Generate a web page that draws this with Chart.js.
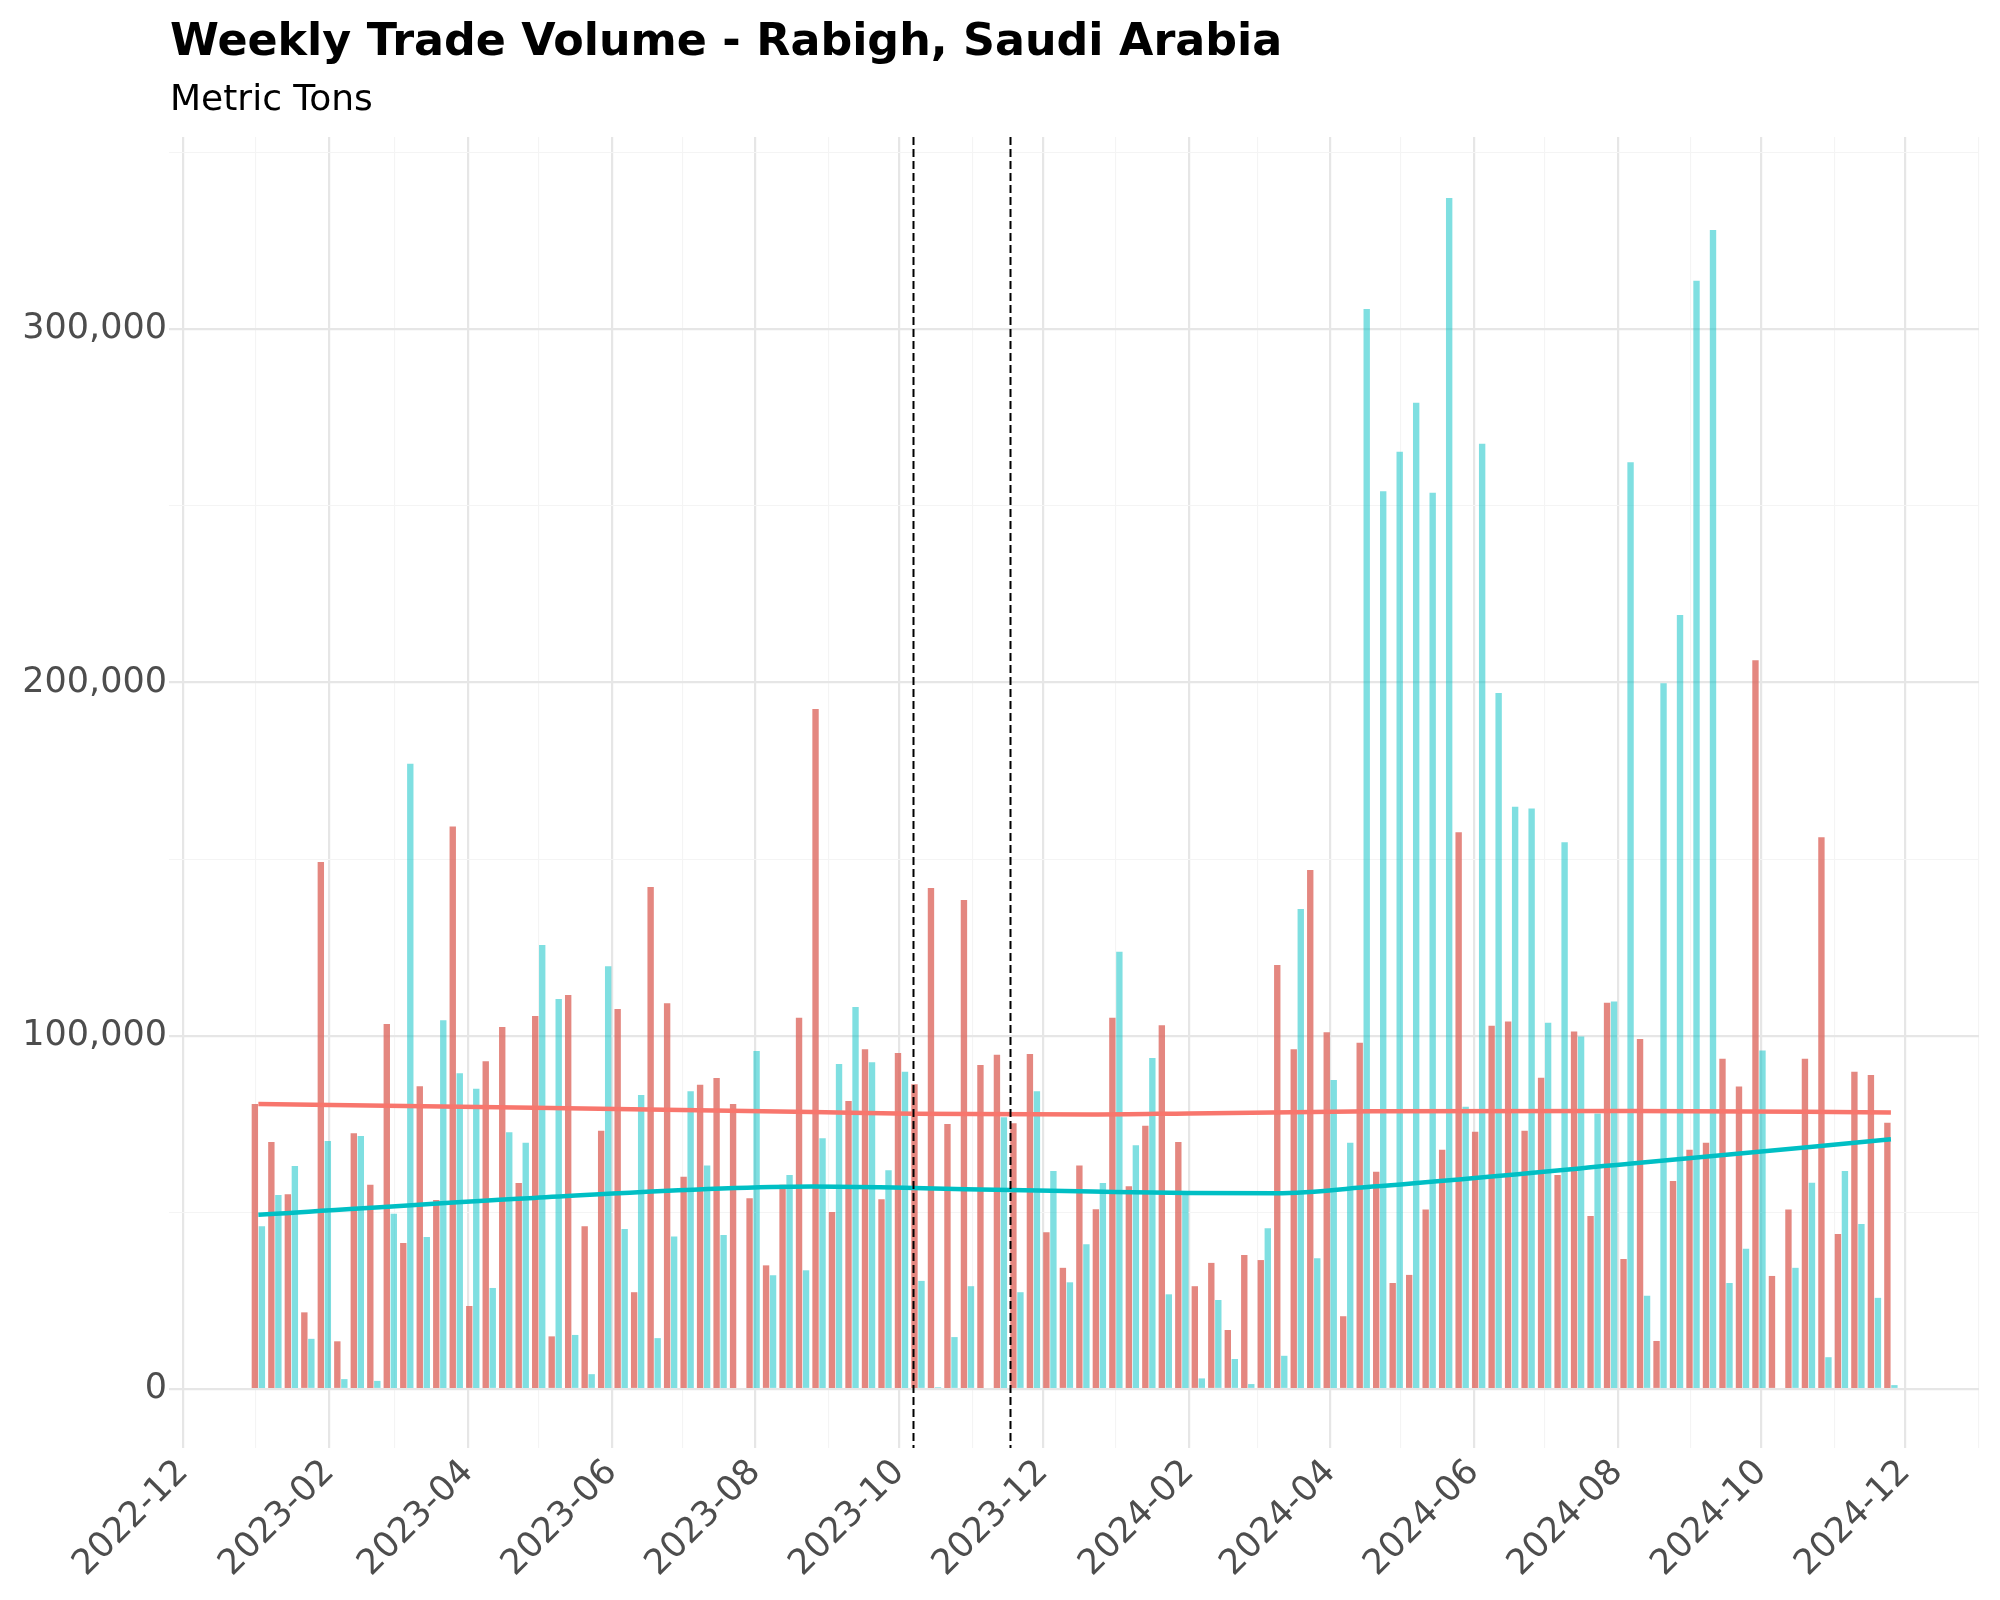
<!DOCTYPE html>
<html lang="en">
<head>
<meta charset="UTF-8">
<title>Weekly Trade Volume - Rabigh, Saudi Arabia</title>
<script src="https://cdn.jsdelivr.net/npm/chart.js"></script>
<style>
  html, body { margin: 0; padding: 0; background: #ffffff; }
  #wrap { width: 2000px; height: 1600px; }
</style>
</head>
<body>
<div id="wrap"><canvas id="tradeChart" width="2000" height="1600"></canvas></div>
<script>
// weekly dates (Mondays)
const weeks = [
  '2023-01-02','2023-01-09','2023-01-16','2023-01-23','2023-01-30','2023-02-06','2023-02-13','2023-02-20','2023-02-27','2023-03-06',
  '2023-03-13','2023-03-20','2023-03-27','2023-04-03','2023-04-10','2023-04-17','2023-04-24','2023-05-01','2023-05-08','2023-05-15',
  '2023-05-22','2023-05-29','2023-06-05','2023-06-12','2023-06-19','2023-06-26','2023-07-03','2023-07-10','2023-07-17','2023-07-24',
  '2023-07-31','2023-08-07','2023-08-14','2023-08-21','2023-08-28','2023-09-04','2023-09-11','2023-09-18','2023-09-25','2023-10-02',
  '2023-10-09','2023-10-16','2023-10-23','2023-10-30','2023-11-06','2023-11-13','2023-11-20','2023-11-27','2023-12-04','2023-12-11',
  '2023-12-18','2023-12-25','2024-01-01','2024-01-08','2024-01-15','2024-01-22','2024-01-29','2024-02-05','2024-02-12','2024-02-19',
  '2024-02-26','2024-03-04','2024-03-11','2024-03-18','2024-03-25','2024-04-01','2024-04-08','2024-04-15','2024-04-22','2024-04-29',
  '2024-05-06','2024-05-13','2024-05-20','2024-05-27','2024-06-03','2024-06-10','2024-06-17','2024-06-24','2024-07-01','2024-07-08',
  '2024-07-15','2024-07-22','2024-07-29','2024-08-05','2024-08-12','2024-08-19','2024-08-26','2024-09-02','2024-09-09','2024-09-16',
  '2024-09-23','2024-09-30','2024-10-07','2024-10-14','2024-10-21','2024-10-28','2024-11-04','2024-11-11','2024-11-18','2024-11-25'
];

// red series (metric tons)
const exportsTons = [
  80700, 69900, 55100, 21700, 149200, 13500, 72400, 57800, 103300, 41300,
  85700, 53500, 159200, 23500, 92800, 102500, 58300, 105600, 14900, 111500,
  46100, 73100, 107600, 27400, 142100, 109200, 60100, 86100, 88000, 80700,
  54000, 35000, 57800, 105100, 192500, 50100, 81500, 96200, 53700, 95100,
  86300, 141800, 75000, 138400, 91700, 94600, 75200, 94800, 44400, 34300,
  63300, 50900, 105100, 57400, 74500, 103000, 69900, 29100, 35700, 16700,
  37900, 36500, 120000, 96200, 146900, 101000, 20600, 98000, 61500, 30000,
  32300, 50800, 67700, 157600, 72800, 102800, 104000, 73100, 88100, 60600,
  101200, 49000, 109300, 36800, 99100, 13600, 58900, 67700, 69700, 93500,
  85600, 206300, 32000, 50800, 93500, 156200, 43900, 89800, 88900, 75400
];

// cyan series (metric tons)
const importsTons = [
  46100, 54900, 63100, 14200, 70200, 2800, 71600, 2300, 49600, 177000,
  43000, 104400, 89400, 85000, 28600, 72700, 69700, 125700, 110400, 15300,
  4200, 119700, 45300, 83200, 14400, 43200, 84300, 63300, 43600, 0,
  95700, 32200, 60600, 33600, 71000, 92000, 108100, 92500, 61900, 89800,
  30600, 500, 14700, 29100, 0, 76900, 27400, 84300, 61700, 30200,
  41000, 58300, 123800, 69000, 93700, 26800, 56000, 3000, 25200, 8500,
  1400, 45500, 9400, 135900, 37000, 87500, 69700, 305700, 254100, 265300,
  279200, 253700, 337100, 79900, 267600, 197000, 164800, 164300, 103700, 154800,
  99800, 78000, 109700, 262300, 26400, 199800, 219100, 313700, 328100, 30000,
  39700, 95800, 0, 34300, 58400, 9000, 61700, 46700, 25800, 1100
];

// smoothed trends
const exportsTrendDates = ['2023-01-02','2023-04-29','2023-08-25','2023-10-07','2023-12-22','2024-02-01','2024-04-19','2024-08-07','2024-11-25'];
const exportsTrend = [80700, 79600, 78400, 77900, 77700, 78000, 78600, 78700, 78300];
const importsTrendDates = ['2023-01-02','2023-04-29','2023-08-25','2023-10-07','2023-11-17','2023-12-22','2024-02-01','2024-03-09','2024-04-19','2024-08-07','2024-11-25'];
const importsTrend = [49300, 54100, 57300, 56900, 56300, 55900, 55500, 55400, 57300, 63800, 70700];

// marked events (dashed lines)
const eventDates = ['2023-10-07', '2023-11-17'];

// axis ticks
const xTickLabels = ['2022-12','2023-02','2023-04','2023-06','2023-08','2023-10','2023-12','2024-02','2024-04','2024-06','2024-08','2024-10','2024-12'];
const xMinorMonths = ['2023-01','2023-03','2023-05','2023-07','2023-09','2023-11','2024-01','2024-03','2024-05','2024-07','2024-09','2024-11','2025-01'];
const yTickValues = [0, 100000, 200000, 300000];
const yMinorValues = [50000, 150000, 250000, 350000];

const titleText = 'Weekly Trade Volume - Rabigh, Saudi Arabia';
const subtitleText = 'Metric Tons';

const DAY = 86400000;
function toMs(s) {
  const p = s.split('-').map(Number);
  return Date.UTC(p[0], p[1] - 1, p[2] || 1);
}

const majorX = new Map(xTickLabels.map(l => [toMs(l), l]));
const xTickValues = xTickLabels.concat(xMinorMonths).map(toMs).sort((a, b) => a - b);
const yAllTicks = yTickValues.concat(yMinorValues).sort((a, b) => a - b);

const FONT = 'DejaVu Sans';
const GRID_MAJOR = '#E6E6E6';
const GRID_MINOR = '#F4F4F4';

// title, subtitle and event lines
const extras = {
  id: 'extras',
  afterDatasetsDraw(chart) {
    const { ctx, chartArea, scales } = chart;
    ctx.save();
    ctx.strokeStyle = '#000000';
    ctx.lineWidth = 2;
    ctx.setLineDash([8, 4]);
    eventDates.forEach(d => {
      const x = Math.round(scales.x.getPixelForValue(toMs(d))) + 0.5;
      ctx.beginPath();
      ctx.moveTo(x, chartArea.top);
      ctx.lineTo(x, chartArea.bottom);
      ctx.stroke();
    });
    ctx.restore();
  },
  afterDraw(chart) {
    const { ctx, chartArea } = chart;
    ctx.save();
    ctx.fillStyle = '#000000';
    ctx.textAlign = 'left';
    ctx.textBaseline = 'alphabetic';
    ctx.font = 'bold 44.4px "' + FONT + '"';
    ctx.fillText(titleText, chartArea.left + 1, 55);
    ctx.font = '36px "' + FONT + '"';
    ctx.fillText(subtitleText, chartArea.left + 1, 110);
    ctx.restore();
  }
};

const ctx = document.getElementById('tradeChart').getContext('2d');
new Chart(ctx, {
  type: 'bar',
  data: {
    datasets: [
      {
        type: 'line',
        label: 'Exports trend',
        data: exportsTrendDates.map((d, i) => ({ x: toMs(d), y: exportsTrend[i] })),
        borderColor: '#F8766D',
        borderWidth: 4.5,
        pointRadius: 0,
        cubicInterpolationMode: 'monotone',
        order: 0
      },
      {
        type: 'line',
        label: 'Imports trend',
        data: importsTrendDates.map((d, i) => ({ x: toMs(d), y: importsTrend[i] })),
        borderColor: '#00BFC4',
        borderWidth: 4.5,
        pointRadius: 0,
        cubicInterpolationMode: 'monotone',
        order: 0
      },
      {
        label: 'Exports',
        data: weeks.map((d, i) => ({ x: toMs(d), y: exportsTons[i] })),
        backgroundColor: 'rgba(221, 105, 96, 0.8)',
        borderWidth: 0,
        categoryPercentage: 0.85,
        barPercentage: 0.91,
        order: 1
      },
      {
        label: 'Imports',
        data: weeks.map((d, i) => ({ x: toMs(d), y: importsTons[i] })),
        backgroundColor: 'rgba(0, 191, 196, 0.5)',
        borderWidth: 0,
        categoryPercentage: 0.85,
        barPercentage: 0.91,
        order: 1
      }
    ]
  },
  options: {
    responsive: false,
    devicePixelRatio: 1,
    animation: false,
    layout: { padding: { left: 0, right: 21, top: 137, bottom: 0 } },
    plugins: {
      legend: { display: false },
      tooltip: { enabled: false },
      title: { display: false }
    },
    scales: {
      x: {
        type: 'linear',
        offset: false,
        min: toMs('2022-12-01') - 5.94 * DAY,
        max: toMs('2024-12-01') + 31.4 * DAY,
        afterBuildTicks: s => { s.ticks = xTickValues.map(v => ({ value: v })); },
        afterFit: s => { s.height = 152; s.paddingLeft = 0; s.paddingRight = 0; },
        ticks: {
          autoSkip: false,
          minRotation: 45,
          maxRotation: 45,
          padding: 4,
          color: '#4D4D4D',
          font: { family: FONT, size: 35 },
          callback: v => majorX.get(v) || ''
        },
        grid: {
          offset: false,
          drawTicks: false,
          color: c => (c.tick && majorX.has(c.tick.value)) ? GRID_MAJOR : GRID_MINOR,
          lineWidth: c => (c.tick && majorX.has(c.tick.value)) ? 2.2 : 1.1
        },
        border: { display: false }
      },
      y: {
        min: -16700,
        max: 354400,
        afterBuildTicks: s => { s.ticks = yAllTicks.map(v => ({ value: v })); },
        afterFit: s => { s.width = 169; },
        ticks: {
          padding: 2,
          color: '#4D4D4D',
          font: { family: FONT, size: 35 },
          callback: v => yTickValues.includes(v) ? v.toLocaleString('en-US') : ''
        },
        grid: {
          drawTicks: false,
          color: c => (c.tick && yTickValues.includes(c.tick.value)) ? GRID_MAJOR : GRID_MINOR,
          lineWidth: c => (c.tick && yTickValues.includes(c.tick.value)) ? 2.2 : 1.1
        },
        border: { display: false }
      }
    }
  },
  plugins: [extras]
});
</script>
</body>
</html>
